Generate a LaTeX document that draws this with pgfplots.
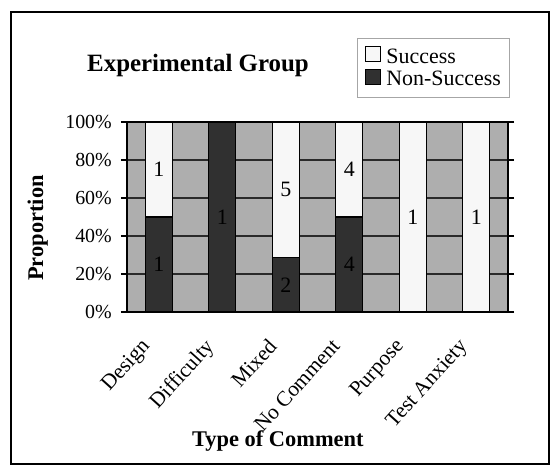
\documentclass[border=0pt]{standalone}
\usepackage{pgfplots}
\pgfplotsset{compat=1.18}
\usepackage{pgfplotstable}
\usepackage{fontspec}
\setmainfont{Liberation Serif}
\definecolor{bggray}{HTML}{AEAEAE}
\definecolor{darkbar}{HTML}{303030}
\definecolor{lightbar}{HTML}{F7F7F7}
\definecolor{gridc}{HTML}{2A2A2A}

\pgfplotstableread{
x cat          ns      s
0 Design       50      50
1 Difficulty   100     0
2 Mixed        28.57   71.43
3 NoComment    50      50
4 Purpose      0       100
5 TestAnxiety  0       100
}\datatable

\pgfplotstableread{
x  y      lab
0  75     1
0  25     1
1  50     1
2  64.29  5
2  14.29  2
3  75     4
3  25     4
4  50     1
5  50     1
}\labeltable

\begin{document}
\begin{tikzpicture}
\useasboundingbox (0,0) rectangle (552bp,466bp);
\draw[line width=1.3bp, black] (11bp,2bp) rectangle (549bp,454bp);
\node[anchor=base west, inner sep=0pt, font=\bfseries\fontsize{25}{28}\selectfont] at (87bp,394bp) {Experimental Group};

\begin{axis}[
  at={(127bp,154bp)}, anchor=south west,
  width=381bp, height=190bp, scale only axis,
  ybar stacked, bar width=27bp,
  xmin=-0.5, xmax=5.5, ymin=0, ymax=100,
  axis background/.style={fill=bggray},
  axis line style={line width=1.4bp, black},
  ymajorgrids, grid style={line width=1.3bp, gridc},
  ytick={0,20,40,60,80,100},
  yticklabel={\pgfmathprintnumber{\tick}\%},
  /pgf/number format/assume math mode=true,
  yticklabel style={font=\fontsize{20}{22}\selectfont, inner sep=0pt, xshift=-9bp},
  tick align=outside,
  ytick style={line width=1.2bp, black},
  major tick length=6bp,
  xtick={0,1,2,3,4,5},
  xticklabels={Design,Difficulty,Mixed,No Comment,Purpose,Test Anxiety},
  x tick style={draw=none},
  minor xtick={-0.5,0.5,1.5,2.5,3.5,4.5,5.5},
  minor x tick style={line width=1bp, black},
  minor tick length=6bp,
  xticklabel style={font=\fontsize{21.5}{24}\selectfont, inner sep=0pt, xshift=-19bp, yshift=-19bp, rotate=48, anchor=north east},
  xlabel={Type of Comment},
  xlabel style={font=\bfseries\fontsize{22.5}{26}\selectfont, at={(0.396,-0.679)}, anchor=center},
  ylabel={Proportion},
  ylabel style={font=\bfseries\fontsize{22.5}{26}\selectfont, at={(-0.234,0.442)}, anchor=center, rotate=0},
  reverse legend,
  legend style={at={(0.604,1.442)}, anchor=north west, draw=gray!70, line width=0.8bp,
    font=\fontsize{22}{25}\selectfont, inner xsep=7bp, inner ysep=8bp,
    row sep=2bp, cells={anchor=west},
    /tikz/every odd column/.append style={column sep=4bp}},
  legend image code/.code={\draw[#1, draw=black, line width=0.9bp] (0bp,-5bp) rectangle (15bp,10bp);},
  legend cell align=left,
]
\addplot[fill=darkbar, draw=black, line width=1.2bp] table[x=x, y=ns] {\datatable};
\addlegendentry{Non-Success}
\addplot[fill=lightbar, draw=black, line width=1.2bp] table[x=x, y=s] {\datatable};
\addlegendentry{Success}
\end{axis}

\begin{axis}[
  at={(127bp,154bp)}, anchor=south west,
  width=381bp, height=190bp, scale only axis,
  xmin=-0.5, xmax=5.5, ymin=0, ymax=100,
  hide axis,
]
\addplot[draw=none, mark=none, nodes near coords, point meta=explicit symbolic,
  every node near coord/.style={anchor=center, font=\fontsize{22}{24}\selectfont, text=black}]
  table[x=x, y=y, meta=lab] {\labeltable};
\end{axis}
\end{tikzpicture}
\end{document}
